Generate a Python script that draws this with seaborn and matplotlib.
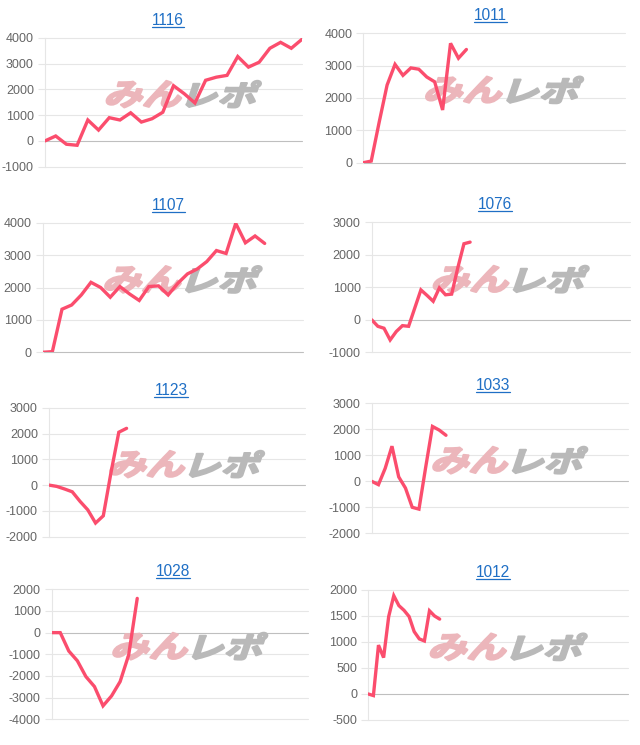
import numpy as np
import pandas as pd
import matplotlib
matplotlib.use('Agg')
import matplotlib.pyplot as plt
import seaborn as sns
from matplotlib.textpath import TextPath
from matplotlib.patches import PathPatch
from matplotlib.font_manager import FontProperties
from matplotlib.transforms import Affine2D, IdentityTransform
from matplotlib.lines import Line2D

# ---- data (cumulative balance per day) ----
titles = ['1116', '1011', '1107', '1076', '1123', '1033', '1028', '1012']

p1116 = [0, 190, -130, -170, 810, 420, 900, 810, 1090, 730, 860, 1110, 2140, 1830,
         1470, 2350, 2470, 2540, 3270, 2860, 3050, 3590, 3820, 3590, 3940]
p1011 = [0, 50, 1250, 2400, 3040, 2700, 2930, 2890, 2650, 2500, 1630, 3690, 3230, 3500]
p1107 = [0, 20, 1330, 1460, 1770, 2160, 2000, 1700, 2030, 1800, 1600, 2030, 2050, 1770,
         2130, 2420, 2570, 2800, 3140, 3050, 3980, 3380, 3590, 3360]
p1076 = [0, -200, -260, -620, -360, -180, -200, 360, 920, 750, 570, 980, 770, 790,
         1600, 2340, 2390]
p1123 = [0, -50, -150, -260, -630, -960, -1470, -1190, 500, 2050, 2200]
p1033 = [0, -130, 500, 1350, 170, -260, -1000, -1070, 550, 2110, 1970, 1770]
p1028 = [0, 0, -850, -1300, -2030, -2490, -3380, -2920, -2260, -1030, 1580]
p1012 = [0, -30, 940, 700, 1490, 1890, 1700, 1610, 1490, 1200, 1060, 1020, 1600, 1500, 1440]

series = [p1116, p1011, p1107, p1076, p1123, p1033, p1028, p1012]
n_days = [25, 34, 28, 43, 34, 39, 31, 52]          # slots on the x axis
y_min = [-1000, 0, 0, -1000, -2000, -2000, -4000, -500]
y_max = [4000, 4000, 4000, 3000, 3000, 3000, 2000, 2000]
y_step = [1000, 1000, 1000, 1000, 1000, 1000, 1000, 500]

# ---- layout (pixels: left, top, right, bottom) ----
W, H = 640, 745
RECTS = [(45, 37.7, 302, 166.7), (363.3, 33.3, 625, 162.7),
         (42.7, 222.7, 303.3, 352.3), (371.7, 222.3, 630, 352.3),
         (49, 407.7, 305, 536.7), (371.7, 403.3, 628.3, 533.3),
         (51.7, 589.3, 308.3, 719.3), (368.3, 590, 628.3, 720)]
TITLE_X = [168, 490, 168, 495, 171, 493, 173, 493]

LINE = '#fb4d6d'
GRID = '#e6e6e6'
ZERO = '#bfbfbf'
BLUE = '#1f6fc5'

sns.set_theme(style='white')
plt.rcParams['font.family'] = ['Liberation Sans', 'DejaVu Sans']
plt.rcParams['axes.unicode_minus'] = False

wm_font = FontProperties(family='Noto Sans CJK JP', weight='bold')


def watermark(ax, text, x0, x1, y0, y1, color):
    path = TextPath((0, 0), text, size=1, prop=wm_font)
    path = Affine2D().skew_deg(14, 0).transform_path(path)
    ext = path.get_extents()
    tr = (Affine2D().translate(-ext.x0, -ext.y0)
          .scale((x1 - x0) / ext.width, (y1 - y0) / ext.height)
          .translate(x0, y0) + ax.transAxes)
    ax.add_patch(PathPatch(path, facecolor=color, edgecolor=color, linewidth=1.6,
                           joinstyle='round', transform=tr, zorder=1, clip_on=False))


fig = plt.figure(figsize=(W / 100, H / 100), dpi=100, facecolor='white')
title_texts = []

for i, vals in enumerate(series):
    l, t, r, b = RECTS[i]
    ax = fig.add_axes([l / W, 1 - b / H, (r - l) / W, (b - t) / H])
    ax.set_facecolor('white')

    watermark(ax, 'みん', 0.24, 0.53, 0.46, 0.665, '#ecb6bb')
    watermark(ax, 'レポ', 0.55, 0.84, 0.46, 0.665, '#b9b9b9')

    df = pd.DataFrame({'day': np.arange(len(vals)), 'pl': vals})
    sns.lineplot(data=df, x='day', y='pl', ax=ax, color=LINE, linewidth=2.4,
                 zorder=3, solid_joinstyle='miter')

    ax.set_xlim(0, n_days[i] - 1)
    ax.set_ylim(y_min[i], y_max[i])
    ticks = np.arange(y_min[i], y_max[i] + 1, y_step[i])
    ax.set_yticks(ticks)
    ax.set_yticklabels([str(int(v)) for v in ticks])
    ax.set_xticks([])
    ax.set_xlabel('')
    ax.set_ylabel('')

    ax.set_axisbelow(True)
    ax.grid(axis='y', color=GRID, linewidth=0.8)
    for tv, gl in zip(ticks, ax.get_ygridlines()):
        gl.set_clip_on(False)
        if tv == 0:
            gl.set_color(ZERO)
    for s in ['top', 'right', 'bottom']:
        ax.spines[s].set_visible(False)
    ax.spines['left'].set_color(GRID)
    ax.spines['left'].set_linewidth(0.8)
    ax.tick_params(axis='y', left=True, length=5, width=0.8, color=GRID,
                   labelcolor='#666666', labelsize=9, pad=3)
    for tv, tk in zip(ticks, ax.yaxis.get_major_ticks()):
        if tv == 0:
            tk.tick1line.set_color(ZERO)

    txt = fig.text(TITLE_X[i] / W, 1 - (t - 13) / H, titles[i], ha='center',
                   va='baseline', color=BLUE, fontsize=11.2)
    title_texts.append((txt, t - 13))

# underline the titles (they are links)
fig.canvas.draw()
for txt, base in title_texts:
    bb = txt.get_window_extent()
    y = H - (base + 1.8)
    fig.add_artist(Line2D([bb.x0, bb.x1], [y, y], color=BLUE, linewidth=0.9,
                          transform=IdentityTransform()))

fig.savefig('out.png', dpi=100, facecolor='white')
